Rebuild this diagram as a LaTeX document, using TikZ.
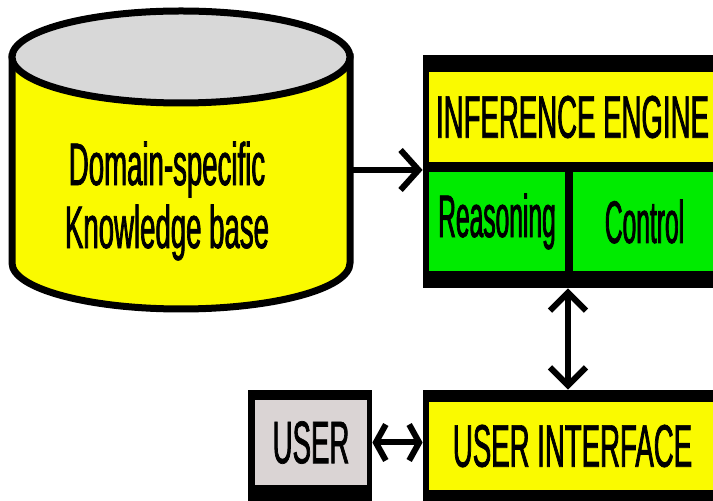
\documentclass[tikz,border=0pt]{standalone}
\usepackage{fontspec}
\newfontfamily\diagfont{Liberation Sans}[FakeStretch=0.46,FakeBold=1.2]
\newfontfamily\cellfont{Liberation Sans}[FakeStretch=0.41,FakeBold=1.2]
\usepackage{xcolor}
\usetikzlibrary{arrows.meta}
\definecolor{kbyellow}{RGB}{250,250,0}
\definecolor{cellgreen}{RGB}{0,235,0}
\definecolor{topgrey}{RGB}{216,216,216}
\definecolor{usergrey}{RGB}{218,212,212}
\tikzset{outerbox/.style = {rectangle,fill=black,inner sep=0pt},
  cell/.style = {rectangle,inner sep=0pt,font=\diagfont\fontsize{30}{31.5}\selectfont},
  subcell/.style = {cell,fill=cellgreen,font=\cellfont\fontsize{30}{31.5}\selectfont},
  conn/.style = {line width=3pt,-{Straight Barb[length=9pt,width=20pt]}},
  dconn/.style = {line width=3pt,{Straight Barb[length=9pt,width=18pt]}-{Straight Barb[length=9pt,width=18pt]}},
  sconn/.style = {line width=3pt,{Straight Barb[length=5pt,width=18pt]}-{Straight Barb[length=5pt,width=18pt]}}
  }

\begin{document}
\begin{tikzpicture}[x=0.5pt,y=-0.5pt]
        \useasboundingbox (0,0) rectangle (713,501);
        \clip (0,0) rectangle (713,501);
        \filldraw[fill=kbyellow,line width=3.5pt] (12,57) -- (12,263)
            arc[start angle=180,end angle=0,x radius=169,y radius=46] -- (350,57) -- cycle;
        \filldraw[fill=topgrey,line width=3.5pt] (181,57) ellipse [x radius=169,y radius=46];
        \path (181,170) node[minimum width=169pt,minimum height=103pt] (kb) {}
        (167,201) node[cell,align=center] (kbtext) {Domain-specific\\Knowledge base}
        (574,171.5) node[outerbox,minimum width=151pt,minimum height=116.5pt] (engine) {}
        (572.5,117) node[cell,fill=kbyellow,minimum width=143.5pt,minimum height=45pt] (engtitle) {INFERENCE ENGINE}
        (497,221.5) node[subcell,minimum width=68pt,minimum height=49.5pt] (reasoning) {Reasoning}
        (644.5,221.5) node[subcell,minimum width=71.5pt,minimum height=49.5pt] (control) {Control}
        (569.5,450) node[outerbox,minimum width=146.5pt,minimum height=60pt] (ui) {}
        (572.5,446) node[cell,fill=kbyellow,minimum width=143.5pt,minimum height=44pt] (uitext) {USER INTERFACE}
        (310,447.5) node[outerbox,minimum width=62pt,minimum height=57.5pt] (user) {}
        (311,442.5) node[cell,fill=usergrey,minimum width=56pt,minimum height=42.5pt] (usertext) {USER};
        \coordinate (gap) at (568,0);
        \path
            (kb.east)   edge[conn]  (kb.east -| engine.west)
            (gap |- engine.south)   edge[dconn]  (gap |- ui.north)
            (usertext.east -| user.east)   edge[sconn]  (usertext.east -| ui.west);
        \end{tikzpicture}
\end{document}
